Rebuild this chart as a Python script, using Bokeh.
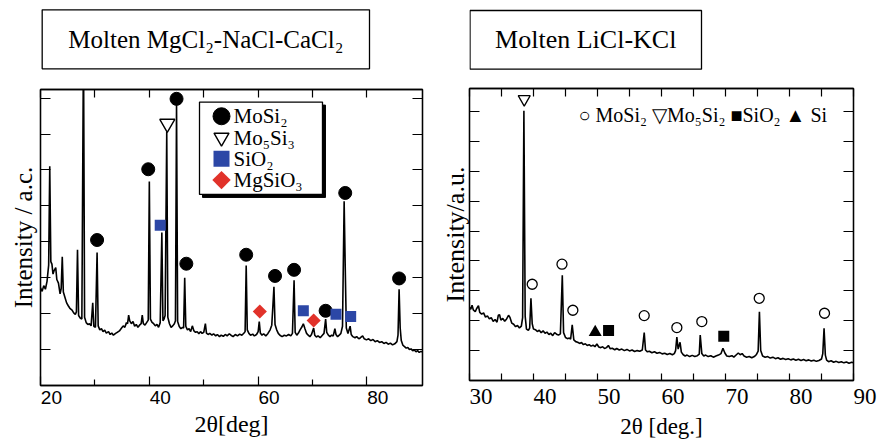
import math
from bokeh.plotting import figure
from bokeh.layouts import row, column
from bokeh.models import Range1d, LinearAxis, FixedTicker, Label, BoxAnnotation
from bokeh.core.properties import value
from bokeh.embed import file_html
from bokeh.resources import INLINE

SERIF = "Liberation Serif"
SANS = "Liberation Sans"
BLUE = "#2c47a6"
RED = "#e1322a"
FIG_SP = "\u2007\u2007"   # two figure spaces: makes a centred 2-digit label start at its tick

# ---------------- Left panel: molten MgCl2-NaCl-CaCl2 ----------------
left_title = "Molten MgCl₂-NaCl-CaCl₂"
left_xlabel = "2θ[deg]"
left_ylabel = "Intensity / a.c."
left_xticks = [20, 40, 60, 80]
left_xminor = [30, 50, 70]
left_yticks = [1, 2, 3, 4, 5, 6, 7, 8]

left_2theta = [
    20.0, 20.3, 20.6, 20.9, 21.2, 21.5, 21.7, 21.9, 22.1, 22.3, 22.5, 22.8, 23.0, 23.3, 23.6, 23.8,
    24.0, 24.2, 24.5, 24.8, 25.1, 25.4, 25.8, 26.1, 26.4, 26.6, 26.8, 27.0, 27.3, 27.6, 27.9, 28.1,
    28.4, 28.7, 29.0, 29.3, 29.6, 29.8, 30.1, 30.4, 30.6, 30.9, 31.2, 31.5, 31.8, 32.1, 32.5, 32.8,
    33.1, 33.4, 33.8, 34.1, 34.5, 34.9, 35.2, 35.5, 35.8, 36.0, 36.2, 36.4, 36.7, 37.0, 37.3, 37.6,
    37.9, 38.2, 38.5, 38.7, 38.9, 39.2, 39.5, 39.8, 40.0, 40.2, 40.5, 40.8, 41.1, 41.4, 41.7, 42.0,
    42.3, 42.5, 42.7, 42.9, 43.2, 43.4, 43.7, 44.0, 44.3, 44.6, 44.8, 45.0, 45.2, 45.5, 45.8, 46.1,
    46.3, 46.5, 46.7, 47.0, 47.3, 47.6, 47.9, 48.2, 48.5, 48.8, 49.1, 49.4, 49.7, 50.0, 50.3, 50.5,
    50.8, 51.1, 51.5, 51.8, 52.2, 52.5, 52.9, 53.2, 53.6, 54.0, 54.3, 54.7, 55.0, 55.4, 55.8, 56.2,
    56.6, 57.0, 57.4, 57.6, 57.8, 58.0, 58.3, 58.6, 59.0, 59.3, 59.7, 60.0, 60.2, 60.4, 60.7, 61.0,
    61.4, 61.8, 62.2, 62.5, 62.7, 62.9, 63.1, 63.4, 63.7, 64.0, 64.4, 64.8, 65.2, 65.6, 66.0, 66.3,
    66.6, 66.8, 67.1, 67.4, 67.7, 68.0, 68.3, 68.6, 68.9, 69.2, 69.5, 69.8, 70.2, 70.4, 70.7, 71.0,
    71.4, 71.8, 72.1, 72.4, 72.6, 72.9, 73.2, 73.5, 73.8, 74.1, 74.3, 74.6, 74.9, 75.2, 75.5, 75.8,
    76.0, 76.2, 76.5, 76.9, 77.1, 77.4, 77.8, 78.1, 78.5, 78.8, 79.2, 79.5, 79.9, 80.3, 80.7, 81.1,
    81.5, 81.9, 82.3, 82.7, 83.1, 83.5, 83.9, 84.3, 84.7, 85.1, 85.5, 85.7, 85.9, 86.1, 86.3, 86.6,
    86.9, 87.2, 87.5, 87.8, 88.1, 88.4, 88.7, 89.0, 89.3, 89.6, 89.9, 90.2,
]
left_intensity = [
    2.72, 2.62, 2.78, 2.68, 2.90, 3.35, 6.10, 3.45, 3.38, 3.10, 3.20, 3.28, 2.95, 2.85, 2.55, 2.70,
    3.58, 2.60, 2.45, 2.30, 2.22, 2.15, 2.10, 2.02, 1.98, 2.05, 3.78, 1.95, 1.88, 1.85, 9.60, 1.90,
    1.75, 1.70, 1.72, 1.66, 2.30, 1.65, 1.62, 3.70, 1.66, 1.55, 1.58, 1.50, 1.54, 1.46, 1.50, 1.42,
    1.46, 1.40, 1.45, 1.48, 1.52, 1.60, 1.66, 1.62, 1.75, 1.72, 1.96, 1.80, 1.72, 1.78, 1.65, 1.70,
    1.62, 1.68, 1.72, 1.96, 1.72, 1.68, 1.75, 1.82, 5.68, 1.85, 1.76, 1.72, 1.66, 1.70, 1.62, 1.75,
    4.26, 1.80, 1.85, 1.95, 7.06, 1.90, 1.72, 1.62, 1.66, 1.72, 1.80, 7.84, 1.78, 1.64, 1.58, 1.62,
    1.60, 3.00, 1.65, 1.55, 1.58, 1.50, 1.66, 1.52, 1.48, 1.50, 1.44, 1.50, 1.45, 1.48, 1.72, 1.46,
    1.42, 1.45, 1.40, 1.44, 1.38, 1.42, 1.36, 1.40, 1.37, 1.42, 1.38, 1.44, 1.40, 1.36, 1.42, 1.38,
    1.43, 1.40, 1.46, 1.50, 3.34, 1.55, 1.45, 1.40, 1.43, 1.38, 1.42, 1.50, 1.78, 1.46, 1.40, 1.44,
    1.38, 1.45, 1.55, 1.68, 2.20, 2.75, 1.70, 1.55, 1.45, 1.40, 1.36, 1.40, 1.38, 1.42, 1.38, 1.45,
    2.93, 1.48, 1.40, 1.46, 1.55, 1.62, 1.72, 1.58, 1.45, 1.40, 1.36, 1.42, 1.60, 1.40, 1.35, 1.38,
    1.33, 1.40, 1.45, 1.85, 1.48, 1.40, 1.36, 1.40, 1.38, 1.58, 1.42, 1.36, 1.40, 1.45, 1.65, 5.13,
    3.30, 1.60, 1.45, 1.65, 1.42, 1.36, 1.33, 1.36, 1.30, 1.33, 1.38, 1.30, 1.27, 1.30, 1.25, 1.28,
    1.22, 1.25, 1.20, 1.22, 1.17, 1.20, 1.15, 1.18, 1.13, 1.16, 1.22, 1.40, 2.68, 1.60, 1.25, 1.12,
    1.08, 1.04, 1.06, 1.00, 1.02, 0.97, 0.99, 0.94, 0.97, 0.92, 0.95, 0.93,
]

left_mosi2_x = [30.4, 39.8, 45.0, 46.8, 57.8, 63.1, 66.6, 72.4, 76.0, 85.9]
left_mosi2_y = [4.05, 6.02, 7.98, 3.39, 3.64, 3.05, 3.22, 2.08, 5.36, 2.98]
left_mo5si3_x = [43.3]
left_mo5si3_y = [7.29]
left_sio2_x = [42.0, 68.3, 74.3, 77.0]
left_sio2_y = [4.46, 2.08, 1.98, 1.92]
left_mgsio3_x = [60.3, 70.2]
left_mgsio3_y = [2.06, 1.81]
left_legend_labels = ["MoSi₂", "Mo₅Si₃", "SiO₂", "MgSiO₃"]

# ---------------- Right panel: molten LiCl-KCl ----------------
right_title = "Molten LiCl-KCl"
right_xlabel = "2θ [deg.]"
right_ylabel = "Intensity/a.u."
right_xticks = [30, 40, 50, 60, 70, 80, 90]
right_xminor = [35, 45, 55, 65, 75, 85]
right_xall = [30, 35, 40, 45, 50, 55, 60, 65, 70, 75, 80, 85, 90]
right_yticks = [1, 2, 3, 4, 5, 6, 7, 8, 9]
right_legend_text = "○ MoSi₂ ▽Mo₅Si₂ ■SiO₂ ▲ Si"

right_2theta = [
    30.0, 30.2, 30.4, 30.6, 30.9, 31.1, 31.4, 31.6, 31.9, 32.2, 32.5, 32.8, 33.1, 33.4, 33.7, 34.0,
    34.3, 34.5, 34.7, 34.9, 35.2, 35.5, 35.8, 36.1, 36.3, 36.6, 36.9, 37.2, 37.5, 37.8, 38.1, 38.3,
    38.5, 38.7, 38.9, 39.2, 39.4, 39.6, 39.8, 40.0, 40.3, 40.6, 40.9, 41.2, 41.5, 41.8, 42.1, 42.4,
    42.7, 43.0, 43.3, 43.6, 43.9, 44.2, 44.5, 44.7, 45.0, 45.3, 45.6, 45.8, 46.05, 46.3, 46.6, 46.9,
    47.2, 47.5, 47.8, 48.1, 48.4, 48.7, 49.0, 49.3, 49.6, 49.9, 50.2, 50.5, 50.8, 51.1, 51.4, 51.7,
    52.0, 52.3, 52.7, 53.0, 53.4, 53.8, 54.2, 54.6, 55.0, 55.4, 55.8, 56.2, 56.6, 57.0, 57.3, 57.5,
    57.8, 58.1, 58.5, 58.9, 59.3, 59.7, 60.1, 60.5, 60.9, 61.3, 61.7, 62.0, 62.2, 62.4, 62.6, 62.9,
    63.1, 63.4, 63.7, 64.0, 64.4, 64.8, 65.2, 65.6, 65.9, 66.05, 66.3, 66.6, 66.9, 67.3, 67.7, 68.1,
    68.5, 68.9, 69.3, 69.6, 69.9, 70.2, 70.6, 71.0, 71.3, 71.7, 72.0, 72.3, 72.6, 72.9, 73.3, 73.7,
    74.1, 74.5, 74.8, 75.1, 75.3, 75.5, 75.8, 76.2, 76.6, 77.0, 77.4, 77.8, 78.2, 78.6, 79.0, 79.4,
    79.8, 80.2, 80.6, 81.0, 81.4, 81.8, 82.2, 82.6, 83.0, 83.4, 83.8, 84.2, 84.6, 85.0, 85.2, 85.4,
    85.6, 85.8, 86.1, 86.5, 86.9, 87.3, 87.7, 88.1, 88.5, 88.9, 89.3, 89.7, 90.0,
]
right_intensity = [
    2.45, 2.38, 2.52, 2.36, 2.30, 2.40, 2.50, 2.28, 2.22, 2.26, 2.12, 2.16, 2.06, 2.10, 1.98, 2.04,
    1.95, 2.18, 2.20, 2.02, 2.08, 1.98, 2.06, 2.18, 2.12, 1.92, 1.88, 1.80, 1.84, 1.76, 1.82, 2.10,
    9.02, 2.15, 1.72, 1.68, 1.75, 2.75, 1.90, 1.72, 1.70, 1.64, 1.68, 1.60, 1.66, 1.58, 1.62, 1.54,
    1.58, 1.50, 1.60, 1.55, 1.52, 1.56, 3.52, 1.60, 1.44, 1.40, 1.42, 1.38, 1.86, 1.36, 1.30, 1.28,
    1.24, 1.27, 1.20, 1.23, 1.17, 1.20, 1.15, 1.18, 1.13, 1.22, 1.12, 1.10, 1.13, 1.07, 1.10, 1.17,
    1.06, 1.08, 1.03, 1.07, 1.02, 1.05, 1.00, 1.04, 0.99, 1.02, 0.97, 1.00, 0.98, 1.02, 1.60, 1.02,
    0.96, 0.98, 0.93, 0.96, 0.91, 0.94, 0.89, 0.91, 0.87, 0.90, 0.86, 0.90, 1.00, 1.45, 1.05, 1.28,
    0.95, 0.86, 0.82, 0.85, 0.80, 0.84, 0.80, 0.83, 0.88, 1.52, 0.90, 0.82, 0.85, 0.80, 0.83, 0.78,
    0.82, 0.85, 0.90, 1.08, 0.92, 0.82, 0.80, 0.83, 0.78, 0.86, 0.92, 0.86, 0.90, 0.82, 0.78, 0.80,
    0.76, 0.80, 0.86, 0.98, 2.30, 1.00, 0.82, 0.78, 0.80, 0.75, 0.78, 0.73, 0.76, 0.71, 0.74, 0.70,
    0.73, 0.69, 0.72, 0.68, 0.71, 0.67, 0.70, 0.66, 0.69, 0.65, 0.68, 0.64, 0.67, 0.72, 0.90, 1.75,
    0.85, 0.68, 0.63, 0.66, 0.61, 0.64, 0.60, 0.63, 0.59, 0.62, 0.58, 0.61, 0.59,
]

right_mosi2_x = [39.8, 44.45, 46.15, 57.3, 62.4, 66.3, 75.27, 85.47]
right_mosi2_y = [3.22, 3.89, 2.35, 2.17, 1.77, 1.97, 2.75, 2.25]
right_mo5si3_x = [38.55]
right_mo5si3_y = [9.41]
right_sio2_x = [51.73, 69.73]
right_sio2_y = [1.67, 1.48]
right_si_x = [49.64]
right_si_y = [1.61]


def style_lines(ax):
    ax.axis_line_color = "black"
    ax.axis_line_width = 1.3
    ax.major_tick_line_color = "black"
    ax.major_tick_line_width = 1.2
    ax.minor_tick_line_color = "black"
    ax.minor_tick_line_width = 1.2


def tick_axis(ticks, minor, tin, tin_minor, **kw):
    """Axis that only draws the inward ticks (its labels are never painted)."""
    ax = LinearAxis(ticker=FixedTicker(ticks=ticks, minor_ticks=minor), **kw)
    ax.major_tick_in = tin
    ax.major_tick_out = 0
    ax.minor_tick_in = tin_minor
    ax.minor_tick_out = 0
    ax.major_label_text_color = None
    ax.major_label_text_font_size = "1px"
    ax.major_label_standoff = 0
    style_lines(ax)
    return ax


def set_titles(ax, font, size, standoff, title, title_size, title_standoff):
    ax.major_label_standoff = standoff
    ax.major_label_text_font = font
    ax.major_label_text_font_size = size
    ax.major_label_text_color = "black"
    if title:
        ax.axis_label = title
        ax.axis_label_standoff = title_standoff
        ax.axis_label_text_font = SERIF
        ax.axis_label_text_font_size = title_size
        ax.axis_label_text_font_style = "normal"
        ax.axis_label_text_color = "black"


def label_axis(ticks, range_name, font, size, standoff, title, title_size, title_standoff):
    ax = LinearAxis(x_range_name=range_name, ticker=FixedTicker(ticks=ticks))
    ax.axis_line_color = None
    ax.major_tick_line_color = None
    ax.minor_tick_line_color = None
    ax.major_tick_in = 0
    ax.major_tick_out = 0
    ax.minor_tick_in = 0
    ax.minor_tick_out = 0
    set_titles(ax, font, size, standoff, title, title_size, title_standoff)
    return ax


def base_fig(width, height, xr, yr, mb):
    p = figure(width=width, height=height, x_range=Range1d(*xr), y_range=Range1d(*yr),
               min_border_left=mb[0], min_border_right=mb[1], min_border_top=mb[2],
               min_border_bottom=mb[3], x_axis_location=None, y_axis_location=None,
               output_backend="svg", toolbar_location=None)
    p.grid.visible = False
    p.outline_line_color = "black"
    p.outline_line_width = 1.3
    p.background_fill_color = "white"
    p.border_fill_color = "white"
    return p


def title_box(width, xr, mb, box_x, box_y, text, size):
    """Strip above a panel (same horizontal frame as the panel) holding a boxed title."""
    t = base_fig(width, 70, xr, (0, 63), mb)
    t.outline_line_color = None
    t.add_layout(BoxAnnotation(left=box_x[0], right=box_x[1], bottom=box_y[0], top=box_y[1],
                               fill_alpha=0, line_color="black", line_alpha=1, line_width=1.3))
    t.add_layout(Label(x=sum(box_x) / 2, y=sum(box_y) / 2, text=text, text_align="center",
                       text_baseline="middle", text_font=SERIF, text_font_size=size,
                       text_color="black"))
    return t


# ================= LEFT =================
LEFT_XR = (20, 90.2)
t1 = title_box(430, LEFT_XR, (40, 8, 7, 0), (20.31, 80.46), (1.7, 60.7), left_title, "25px")

p1 = base_fig(430, 369, LEFT_XR, (0, 8.24), (40, 8, 19, 51))
# label axis shifted so that each label starts at its tick
p1.extra_x_ranges = {"lbl": Range1d(20 - 2.0, 90.2 - 2.0)}

yl = tick_axis(left_yticks, [], 10, 0)
yl.axis_label = left_ylabel
yl.axis_label_text_font = SERIF
yl.axis_label_text_font_size = "25px"
yl.axis_label_text_font_style = "normal"
yl.axis_label_text_color = "black"
yl.axis_label_standoff = 4
p1.add_layout(yl, "left")
p1.add_layout(tick_axis(left_yticks, [], 10, 0), "right")
p1.add_layout(tick_axis(left_xticks, left_xminor, 9, 6), "below")
p1.add_layout(label_axis(left_xticks, "lbl", SANS, "19px", 5, left_xlabel, "24px", 4), "below")
p1.add_layout(tick_axis(left_xticks, left_xminor, 8, 8), "above")

p1.line(left_2theta, left_intensity, line_color="black", line_width=1.6)
p1.scatter(left_mosi2_x, left_mosi2_y, marker="circle", size=13, fill_color="black", line_color="black")
p1.scatter(left_mo5si3_x, left_mo5si3_y, marker="inverted_triangle", size=15,
           fill_color="white", line_color="black", line_width=1.4)
p1.scatter(left_sio2_x, left_sio2_y, marker="square", size=11, fill_color=BLUE, line_color=None)
p1.scatter(left_mgsio3_x, left_mgsio3_y, marker="square", angle=math.pi / 4, size=10,
           fill_color=RED, line_color=None)

# legend box (with drop shadow)
LX0, LX1, LY0, LY1 = 49.22, 71.82, 5.318, 7.889
dx, dy = 3 / 5.4416, 3 / 36.29
p1.add_layout(BoxAnnotation(left=LX0 + dx, right=LX1 + dx, bottom=LY0 - dy, top=LY1 - dy,
                            fill_color="black", fill_alpha=1, line_color="black", line_alpha=1,
                            level="underlay"))
p1.add_layout(BoxAnnotation(left=LX0, right=LX1, bottom=LY0, top=LY1, fill_color="white",
                            fill_alpha=1, line_color="black", line_alpha=1, line_width=1.3,
                            level="underlay"))
row_y = [LY1 - (14.3 + 21.5 * i) / 36.29 for i in range(4)]
mx = LX0 + 22 / 5.4416
tx = LX0 + 34 / 5.4416
p1.scatter([mx], [row_y[0]], marker="circle", size=17, fill_color="black", line_color="black")
p1.scatter([mx], [row_y[1]], marker="inverted_triangle", size=15, fill_color="white",
           line_color="black", line_width=1.4)
p1.scatter([mx], [row_y[2]], marker="square", size=16, fill_color=BLUE, line_color=None)
p1.scatter([mx], [row_y[3]], marker="square", angle=math.pi / 4, size=13, fill_color=RED, line_color=None)
p1.text(x=[tx] * 4, y=row_y, text=left_legend_labels, text_font=value(SERIF),
        text_font_size=value("21px"), text_baseline="middle", text_align="left", text_color="black")

# ================= RIGHT =================
RIGHT_XR = (30, 90)
t2 = title_box(447, RIGHT_XR, (39, 24, 7, 0), (30.08, 66.25), (1.3, 60.0), right_title, "26px")

P2_H = 341
p2 = base_fig(447, P2_H, RIGHT_XR, (0, 293 / 30), (39, 24, 18, P2_H - 18 - 293))

yr_ax = tick_axis(right_yticks, [], 10, 0)
yr_ax.axis_label = right_ylabel
yr_ax.axis_label_text_font = SERIF
yr_ax.axis_label_text_font_size = "26px"
yr_ax.axis_label_text_font_style = "normal"
yr_ax.axis_label_text_color = "black"
yr_ax.axis_label_standoff = 0
p2.add_layout(yr_ax, "left")
p2.add_layout(tick_axis(right_yticks, [], 10, 0), "right")

bx2 = LinearAxis(ticker=FixedTicker(ticks=right_xticks, minor_ticks=right_xminor))
bx2.major_tick_in = 7
bx2.major_tick_out = 0
bx2.minor_tick_in = 7
bx2.minor_tick_out = 0
style_lines(bx2)
set_titles(bx2, SERIF, "23px", 3, None, None, None)
bx2.major_label_overrides = {v: FIG_SP + str(v) for v in right_xticks}
p2.add_layout(bx2, "below")
p2.add_layout(tick_axis(right_xall, [], 8, 0), "above")

p2.line(right_2theta, right_intensity, line_color="black", line_width=1.6)
p2.scatter(right_mosi2_x, right_mosi2_y, marker="circle", size=10, fill_color="white",
           line_color="black", line_width=1.3)
p2.scatter(right_mo5si3_x, right_mo5si3_y, marker="inverted_triangle", size=12, fill_color="white",
           line_color="black", line_width=1.3)
p2.scatter(right_sio2_x, right_sio2_y, marker="square", size=11, fill_color="black", line_color=None)
p2.scatter(right_si_x, right_si_y, marker="triangle", size=13, fill_color="black", line_color=None)

p2.add_layout(Label(x=47.03, y=8.87, text=right_legend_text, text_align="left",
                    text_baseline="alphabetic", text_font=SERIF, text_font_size="20px",
                    text_color="black"))

# strip under the right panel carrying its x-axis title
B2_H = 439 - 70 - P2_H
b2 = base_fig(447, B2_H, RIGHT_XR, (0, B2_H), (39, 24, 0, 0))
b2.outline_line_color = None
b2.add_layout(Label(x=sum(RIGHT_XR) / 2, y=B2_H - 15, text=right_xlabel, text_align="center",
                    text_baseline="middle", text_font=SERIF, text_font_size="23px",
                    text_color="black"))

layout = row(column(t1, p1), column(t2, p2, b2))
open("out.html", "w").write(file_html(layout, INLINE))
